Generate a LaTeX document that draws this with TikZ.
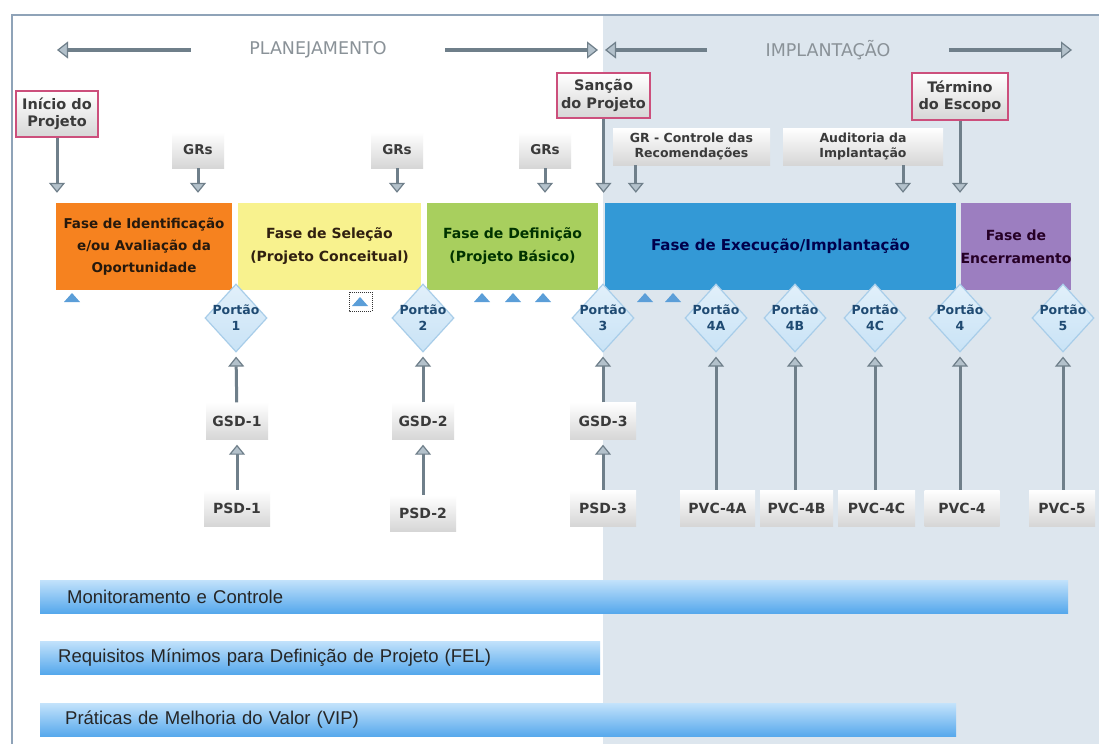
\documentclass[tikz,border=0pt]{standalone}
\usepackage{fontspec}
\setmainfont{DejaVu Sans}
\newfontfamily\barfont{Liberation Sans}
\usetikzlibrary{shapes.geometric,arrows.meta}

\definecolor{framecol}{HTML}{8FA3B8}
\definecolor{bgright}{HTML}{DDE6EE}
\definecolor{phorange}{HTML}{F6821F}
\definecolor{phyellow}{HTML}{F8F28E}
\definecolor{phgreen}{HTML}{A8CF5E}
\definecolor{phblue}{HTML}{3399D6}
\definecolor{phpurple}{HTML}{9C7EC0}
\definecolor{pinkline}{HTML}{CC4F7C}
\definecolor{boxgray}{HTML}{D6D6D6}
\definecolor{boxtext}{HTML}{3A3A3A}
\definecolor{arrowgray}{HTML}{6F7F8A}
\definecolor{arrowfill}{HTML}{B3C1CB}
\definecolor{titlegray}{HTML}{8A9298}
\definecolor{gatefill}{HTML}{C9E3F6}
\definecolor{gateedge}{HTML}{A8CDE9}
\definecolor{gatetext}{HTML}{1F4A72}
\definecolor{tribl}{HTML}{5B9ED8}
\definecolor{bartop}{HTML}{C2E2FB}
\definecolor{barbot}{HTML}{56A8EC}

\begin{document}
\begin{tikzpicture}[x=1pt,y=-1pt,
  phase/.style={rectangle, inner sep=0pt, align=center, minimum height=87pt,
    font=\bfseries\fontsize{14}{23}\selectfont},
  msbox/.style={draw=pinkline, line width=1.6pt, top color=white, bottom color=boxgray,
    align=center, text=boxtext, inner sep=0pt, font=\bfseries\fontsize{14.5}{17.5}\selectfont},
  grbox/.style={top color=white, bottom color=boxgray, align=center, text=boxtext,
    inner sep=0pt, font=\bfseries\fontsize{13.5}{15}\selectfont},
  sdbox/.style={top color=white, bottom color=boxgray, align=center, text=boxtext,
    inner sep=0pt, minimum height=36pt, font=\bfseries\fontsize{14}{16}\selectfont},
  gate/.style={diamond, minimum width=62pt, minimum height=68pt, inner sep=0pt,
    draw=gateedge, line width=1.2pt, top color=gatefill!55!white, bottom color=gatefill},
  gatelbl/.style={align=center, text=gatetext, font=\bfseries\fontsize{12.5}{16}\selectfont},
  flow/.style={draw=arrowgray, line width=3pt,
    -{Triangle[width=16pt,length=10pt,line width=1.2pt,fill=arrowfill]}},
  bigarrow/.style={draw=arrowgray, line width=4pt,
    -{Triangle[width=17pt,length=11pt,line width=1.2pt,fill=arrowfill]}},
  title/.style={text=titlegray, font=\fontsize{17.5}{20}\selectfont},
  bar/.style={anchor=west, minimum height=33pt, top color=bartop, bottom color=barbot,
    align=left, font=\barfont\fontsize{18.5}{20}\selectfont, text=black!85},
  tri/.style={fill=tribl}
]
\useasboundingbox (0,0) rectangle (1099,744);

% page background and frame
\fill[white] (0,0) rectangle (1099,744);
\fill[bgright] (603,15.5) rectangle (1099,744);
\draw[framecol, line width=1.3pt] (12,744) -- (12,15) -- (1099,15);

% planning / implementation headings
\node[title] (plan) at (318,50) {PLANEJAMENTO};
\node[title] (impl) at (828,50) {IMPLANTAÇÃO};
\coordinate (planL) at (57,50);
\coordinate (planR) at (598,50);
\coordinate (implL) at (605,50);
\coordinate (implR) at (1072,50);
\draw[bigarrow] ([xshift=-55pt]plan.west) -- (planL);
\draw[bigarrow] ([xshift=55pt]plan.east) -- (planR);
\draw[bigarrow] ([xshift=-55pt]impl.west) -- (implL);
\draw[bigarrow] ([xshift=55pt]impl.east) -- (implR);

% milestones
\node[msbox, minimum width=82pt, minimum height=46pt] (ms1) at (57,114) {Início do\\Projeto};
\node[msbox, minimum width=93pt, minimum height=45pt] (ms2) at (603.5,95.5) {Sanção\\do Projeto};
\node[msbox, minimum width=96pt, minimum height=47pt] (ms3) at (960,96.5) {Término\\do Escopo};

% reviews
\node[grbox, minimum width=52pt, minimum height=36pt] (gr1) at (198,150) {GRs};
\node[grbox, minimum width=52pt, minimum height=36pt] (gr2) at (397,150) {GRs};
\node[grbox, minimum width=52pt, minimum height=36pt] (gr3) at (545,150) {GRs};
\node[grbox, minimum width=157pt, minimum height=37pt, font=\bfseries\fontsize{12.5}{15}\selectfont] (grc) at (691.5,146.5) {GR - Controle das\\Recomendações};
\node[grbox, minimum width=160pt, minimum height=37pt, font=\bfseries\fontsize{12.5}{15}\selectfont] (aud) at (863,146.5) {Auditoria da\\Implantação};

% phases
\node[phase, fill=phorange, minimum width=176pt, text=black!80!brown, font=\bfseries\fontsize{13.5}{22}\selectfont] (ph1) at (144,246.5) {Fase de Identificação\\e/ou Avaliação da\\Oportunidade};
\node[phase, fill=phyellow, minimum width=183pt, text=black!75!brown] (ph2) at (329.5,246.5) {Fase de Seleção\\(Projeto Conceitual)};
\node[phase, fill=phgreen, minimum width=171pt, text=black!80!green] (ph3) at (512.5,246.5) {Fase de Definição\\(Projeto Básico)};
\node[phase, fill=phblue, minimum width=351pt, text=black!70!blue, font=\bfseries\fontsize{15}{23}\selectfont] (ph4) at (780.5,246.5) {Fase de Execução/Implantação};
\node[phase, fill=phpurple, minimum width=110pt, text=black!70!violet] (ph5) at (1016,246.5) {Fase de\\Encerramento};

% arrows into the phases
\draw[flow, shorten >=10pt] (ms1) -- (ms1 |- ph1.north);
\draw[flow, shorten >=10pt] (ms2) -- (ms2 |- ph4.north);
\draw[flow, shorten >=10pt] (ms3) -- (ms3 |- ph4.north);
\draw[flow, shorten >=10pt] (gr1) -- (gr1 |- ph1.north);
\draw[flow, shorten >=10pt] (gr2) -- (gr2 |- ph2.north);
\draw[flow, shorten >=10pt] (gr3) -- (gr3 |- ph3.north);
\draw[flow, shorten >=10pt] ([xshift=23pt]grc.south west) -- ([xshift=23pt]grc.south west |- ph4.north);
\draw[flow, shorten >=10pt] ([xshift=40pt]aud.south) -- ([xshift=40pt]aud.south |- ph4.north);

% small markers under the phases
\foreach \x in {72,482,513,543,645,673}
  \fill[tri] (\x-8,302) -- (\x+8,302) -- (\x,293) -- cycle;
\fill[tri] (352,306) -- (368,306) -- (360,297) -- cycle;
\draw[black!80, densely dotted, line width=1pt] (349,292) rectangle (372,311);

% gates
\node[gate, label={[gatelbl]center:Portão\\1}] (g1) at (236,318) {};
\node[gate, label={[gatelbl]center:Portão\\2}] (g2) at (423,318) {};
\node[gate, label={[gatelbl]center:Portão\\3}] (g3) at (603,318) {};
\node[gate, label={[gatelbl]center:Portão\\4A}] (g4a) at (716,318) {};
\node[gate, label={[gatelbl]center:Portão\\4B}] (g4b) at (795,318) {};
\node[gate, label={[gatelbl]center:Portão\\4C}] (g4c) at (875,318) {};
\node[gate, label={[gatelbl]center:Portão\\4}] (g4) at (960,318) {};
\node[gate, label={[gatelbl]center:Portão\\5}] (g5) at (1063,318) {};

% gate documents
\node[sdbox, minimum width=62pt, minimum height=37pt] (gsd1) at (237,421) {GSD-1};
\node[sdbox, minimum width=62pt, minimum height=37pt] (gsd2) at (423,421) {GSD-2};
\node[sdbox, minimum width=66pt, minimum height=37pt] (gsd3) at (603,421) {GSD-3};
\node[sdbox, minimum width=66pt] (psd1) at (237,508) {PSD-1};
\node[sdbox, minimum width=66pt] (psd2) at (423,513) {PSD-2};
\node[sdbox, minimum width=66pt] (psd3) at (603,508) {PSD-3};
\node[sdbox, minimum width=75pt] (pvc4a) at (717.5,508) {PVC-4A};
\node[sdbox, minimum width=73pt] (pvc4b) at (796.5,508) {PVC-4B};
\node[sdbox, minimum width=77pt] (pvc4c) at (876.5,508) {PVC-4C};
\node[sdbox, minimum width=75pt] (pvc4) at (962,508) {PVC-4};
\node[sdbox, minimum width=66pt] (pvc5) at (1062,508) {PVC-5};

% document flow into the gates
\draw[flow, shorten >=5pt] (psd1) -- (gsd1);
\draw[flow, shorten >=5pt] (psd2) -- (gsd2);
\draw[flow, shorten >=5pt] (psd3) -- (gsd3);
\draw[flow, shorten >=4pt] (gsd1) -- (g1.south);
\draw[flow, shorten >=4pt] (gsd2) -- (g2.south);
\draw[flow, shorten >=4pt] (gsd3) -- (g3.south);
\draw[flow, shorten >=4pt] (g4a |- pvc4a.north) -- (g4a.south);
\draw[flow, shorten >=4pt] (g4b |- pvc4b.north) -- (g4b.south);
\draw[flow, shorten >=4pt] (g4c |- pvc4c.north) -- (g4c.south);
\draw[flow, shorten >=4pt] (g4 |- pvc4.north) -- (g4.south);
\draw[flow, shorten >=4pt] (g5 |- pvc5.north) -- (g5.south);

% cross-cutting processes
\node[bar, minimum width=1028pt, inner xsep=27pt, text width=974pt] (mon) at (40,596.5) {Monitoramento e Controle};
\node[bar, minimum width=560pt, inner xsep=18pt, text width=524pt] (fel) at (40,657.5) {Requisitos Mínimos para Definição de Projeto (FEL)};
\node[bar, minimum width=916pt, inner xsep=25pt, text width=866pt] (vip) at (40,720) {Práticas de Melhoria do Valor (VIP)};
\end{tikzpicture}
\end{document}
